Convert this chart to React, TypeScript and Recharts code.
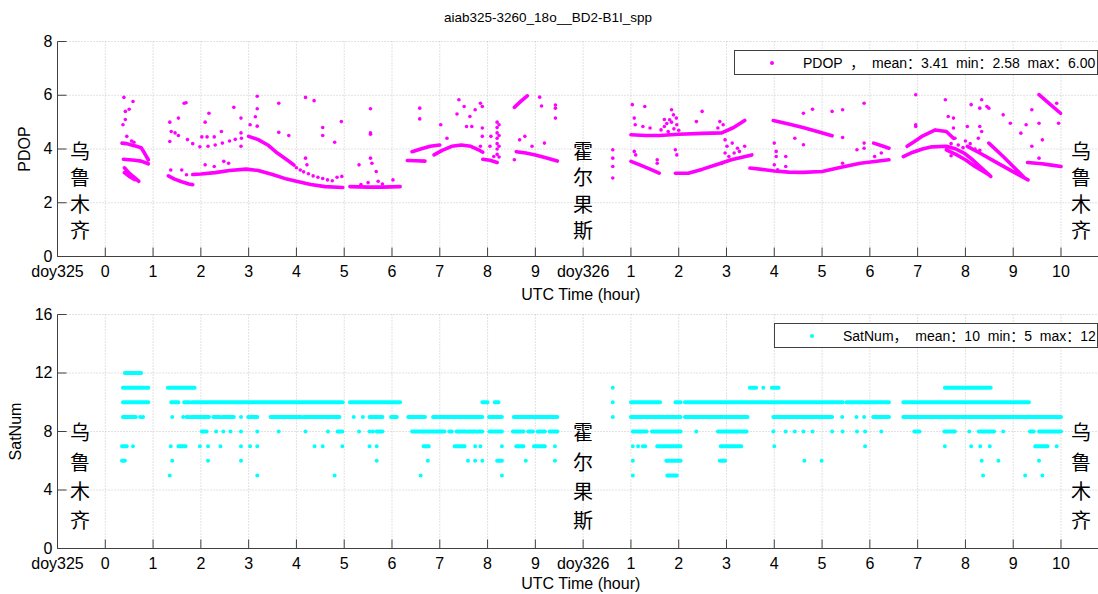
import { CartesianGrid, ComposedChart, Line, Scatter, XAxis, YAxis } from 'recharts'

const FONT = '"Liberation Sans", Arial, "Noto Sans CJK SC", sans-serif'
const CJK = '"Noto Sans CJK SC", sans-serif'
const AXIS = '#404040'
const MAGENTA = '#ff00ff'
const CYAN = '#00ffff'

// x is measured in tick steps: "0" of doy325 is 0, doy326 sits at 10, its hour 1 at 11 ...
const xTicks = [-1, 0, 1, 2, 3, 4, 5, 6, 7, 8, 9, 10, 11, 12, 13, 14, 15, 16, 17, 18, 19, 20]
const xTickLabels = ['doy325', '0', '1', '2', '3', '4', '5', '6', '7', '8', '9', 'doy326', '1', '2', '3', '4', '5', '6', '7', '8', '9', '10']
const pdopTicks = [0, 2, 4, 6, 8]
const satTicks = [0, 4, 8, 12, 16]

// dense PDOP tracks, [t, pdop]
const pdopTracksDay325 = [
  [[0.35, 4.22], [0.45, 4.2], [0.55, 4.15], [0.65, 4.1], [0.75, 4.05], [0.82, 3.85], [0.9, 3.6]],
  [[0.38, 3.62], [0.5, 3.6], [0.62, 3.58], [0.75, 3.55], [0.9, 3.45]],
  [[0.4, 3.3], [0.5, 3.1], [0.6, 2.95], [0.7, 2.8]],
  [[0.4, 3.12], [0.5, 2.98], [0.62, 2.86]],
  [[1.32, 3.0], [1.45, 2.88], [1.6, 2.78], [1.75, 2.7], [1.83, 2.67]],
  [[1.83, 3.05], [2.0, 3.07], [2.3, 3.12], [2.6, 3.2], [2.95, 3.25], [3.2, 3.2], [3.5, 3.05], [3.8, 2.88], [4.0, 2.8], [4.3, 2.68], [4.6, 2.6], [4.97, 2.57]],
  [[3.0, 4.47], [3.2, 4.35], [3.4, 4.15], [3.6, 3.85], [3.8, 3.6], [3.95, 3.4]],
  [[5.12, 2.6], [5.5, 2.58], [5.8, 2.58], [6.17, 2.6]],
  [[6.32, 3.57], [6.5, 3.56], [6.69, 3.55]],
  [[6.42, 3.9], [6.6, 4.0], [6.8, 4.1], [7.0, 4.15]],
  [[6.88, 3.78], [7.05, 3.95], [7.25, 4.1], [7.45, 4.15], [7.65, 4.1], [7.8, 3.98], [7.9, 3.88]],
  [[7.9, 3.62], [8.05, 3.58], [8.2, 3.5]],
  [[8.56, 5.55], [8.7, 5.78], [8.83, 5.98]],
  [[8.6, 3.9], [8.8, 3.85], [9.0, 3.78], [9.2, 3.68], [9.46, 3.55]],
]

const pdopTracksDay326 = [
  [[11.0, 4.53], [11.3, 4.5], [11.6, 4.5], [12.0, 4.55], [12.5, 4.58], [12.9, 4.6], [13.15, 4.8], [13.38, 5.06]],
  [[11.0, 3.54], [11.2, 3.4], [11.4, 3.25], [11.59, 3.1]],
  [[11.93, 3.1], [12.2, 3.1], [12.5, 3.25], [12.85, 3.45], [13.1, 3.6], [13.53, 3.78]],
  [[13.49, 3.29], [13.8, 3.23], [14.0, 3.18], [14.3, 3.14], [14.6, 3.13], [15.0, 3.16], [15.4, 3.32], [15.8, 3.47], [16.4, 3.6]],
  [[13.98, 5.06], [14.3, 4.93], [14.6, 4.8], [14.9, 4.65], [15.21, 4.49]],
  [[16.08, 4.22], [16.25, 4.12], [16.4, 4.03]],
  [[16.7, 3.72], [16.9, 3.88], [17.1, 4.0], [17.3, 4.08], [17.6, 4.1], [17.8, 4.0], [17.97, 3.85], [18.15, 3.6], [18.34, 3.29], [18.53, 2.98]],
  [[16.78, 4.1], [16.95, 4.3], [17.1, 4.48], [17.37, 4.71], [17.6, 4.65], [17.75, 4.4]],
  [[17.6, 3.97], [17.8, 3.8], [18.0, 3.6], [18.2, 3.35], [18.49, 3.04]],
  [[18.04, 4.1], [18.3, 3.85], [18.6, 3.55], [18.9, 3.25], [19.1, 3.05], [19.31, 2.85]],
  [[18.49, 4.22], [18.79, 3.72], [19.0, 3.35], [19.24, 2.92]],
  [[19.3, 3.5], [19.6, 3.45], [19.8, 3.4], [20.0, 3.35]],
  [[19.54, 6.02], [19.75, 5.7], [19.99, 5.33]],
]

// loose PDOP epochs, [t, pdop]
const pdopDotsDay325 = [
  [0.39, 5.92], [0.42, 5.4], [0.37, 4.9], [0.42, 5.1], [0.5, 5.48], [0.58, 5.77], [0.45, 4.47], [0.55, 4.3], [0.6, 4.25],
  [1.35, 5.0], [1.38, 4.65], [1.46, 4.6], [1.53, 4.5], [1.35, 4.28], [1.65, 5.7], [1.69, 5.72], [1.53, 5.15], [1.72, 4.35],
  [1.83, 4.2], [2.02, 4.45], [2.09, 5.0], [2.17, 5.33], [2.13, 4.45], [2.28, 4.45], [2.69, 5.55], [3.18, 5.96], [3.18, 5.5],
  [3.14, 5.2], [3.18, 4.85], [3.03, 4.9], [2.84, 5.15], [2.84, 4.6], [2.84, 4.1], [3.63, 5.7], [3.84, 4.5], [3.63, 4.62],
  [4.19, 5.92], [4.37, 5.8], [4.55, 4.8], [4.55, 4.5], [4.8, 4.25], [4.94, 5.02], [4.19, 3.66], [4.22, 3.41], [2.28, 3.35],
  [2.48, 3.54], [2.58, 3.47], [2.43, 4.65], [2.09, 3.41], [1.7, 3.04], [1.6, 3.22], [1.37, 3.22],
  [1.98, 4.08], [2.15, 4.1], [2.3, 4.15], [2.45, 4.22], [2.6, 4.3], [2.72, 4.36], [2.85, 4.4],
  [4.0, 3.3], [4.08, 3.22], [4.15, 3.15], [4.25, 3.08], [4.35, 3.0], [4.45, 2.95], [4.55, 2.9], [4.65, 2.85], [4.75, 2.82], [4.85, 2.95], [4.95, 2.98],
  [5.55, 5.5], [5.55, 4.6], [5.55, 4.55], [5.55, 3.66], [5.58, 3.47], [5.31, 3.41], [5.67, 3.16], [5.71, 2.8], [6.02, 2.85],
  [5.5, 2.75], [5.8, 2.7], [5.35, 2.68],
  [6.58, 5.52], [6.58, 5.12], [7.02, 4.9], [7.15, 4.4], [7.4, 5.83], [7.36, 5.3], [7.51, 5.58], [7.63, 5.21], [7.74, 5.46],
  [7.85, 5.7], [7.89, 5.58], [7.56, 4.84], [7.67, 4.84], [7.89, 4.78], [7.89, 4.47], [7.85, 4.1], [8.07, 4.47], [8.05, 4.1],
  [8.2, 5.0], [8.2, 4.8], [8.2, 4.6], [8.2, 4.4], [8.2, 4.2], [8.2, 4.0], [8.2, 3.8], [8.24, 4.9], [8.24, 4.5], [8.24, 4.1],
  [8.24, 3.7], [8.13, 3.72],
  [8.56, 3.6], [8.67, 4.34], [8.78, 4.47], [8.93, 4.1], [9.19, 4.22], [9.09, 5.93], [9.13, 5.6], [9.42, 5.64], [9.42, 5.15], [9.42, 5.52],
]

const pdopDotsDay326 = [
  [10.62, 3.97], [10.62, 3.66], [10.62, 3.35], [10.62, 2.92],
  [11.03, 5.65], [11.07, 5.15], [11.09, 4.9], [11.29, 5.58], [11.25, 4.84], [11.4, 4.78], [11.07, 3.91], [11.1, 3.78],
  [11.55, 3.6], [11.55, 3.47], [11.85, 5.46], [11.89, 5.27], [11.81, 5.09], [11.7, 4.84], [11.63, 4.71], [11.96, 4.9],
  [11.78, 4.65], [11.93, 3.97], [11.96, 3.78], [12.49, 5.4], [12.37, 5.02], [12.86, 5.02], [12.93, 4.9], [12.82, 4.78],
  [12.97, 4.34], [13.01, 4.1], [13.12, 4.22], [13.23, 4.03], [12.97, 3.85], [13.16, 3.85], [12.9, 3.47], [13.05, 3.72],
  [13.27, 3.91], [13.38, 4.1], [11.75, 4.95], [11.85, 5.0], [11.9, 4.75], [11.8, 4.55], [12.0, 4.7], [11.7, 5.1], [11.95, 5.15],
  [14.0, 4.22], [14.04, 3.91], [14.04, 3.72], [14.0, 3.41], [14.07, 3.23], [14.24, 3.72], [14.24, 3.35], [14.43, 4.4],
  [14.61, 4.16], [14.61, 5.33], [14.8, 5.48], [15.21, 5.4], [15.43, 5.46], [15.43, 4.43], [15.43, 3.47], [15.88, 5.7],
  [15.88, 4.22], [15.88, 4.03], [15.73, 3.97], [16.1, 3.72], [16.24, 3.85],
  [16.96, 6.02], [16.96, 4.9], [16.96, 4.84], [17.58, 5.83], [17.75, 5.15], [17.64, 5.21], [17.75, 4.78], [17.78, 4.4],
  [18.12, 5.65], [18.34, 5.83], [18.3, 5.52], [18.45, 5.58], [18.49, 5.52], [18.3, 4.84], [18.34, 4.65], [18.27, 4.4],
  [18.04, 4.84], [18.79, 5.27], [18.94, 4.96], [19.16, 4.59], [19.27, 4.9], [19.39, 5.46], [19.54, 4.96], [19.61, 4.34],
  [19.91, 5.7], [19.95, 4.96], [19.39, 4.1], [19.54, 3.66],
  [17.7, 4.2], [17.85, 4.15], [17.95, 4.05], [18.1, 4.2], [18.2, 4.0], [18.3, 3.95], [17.7, 3.75], [18.0, 4.3],
]

// satellite count runs per level, [t start, t end]
const sat12 = [[0.41, 0.75]]
const sat11 = [[0.37, 0.9], [1.31, 1.87], [10.62, 10.62], [13.49, 13.62], [13.77, 13.77], [13.95, 14.09], [17.57, 18.53]]
const sat10 = [
  [0.37, 0.9], [1.38, 1.53], [1.65, 1.76], [1.81, 4.97], [5.12, 6.17], [7.89, 8.0], [8.15, 8.23], [10.62, 10.62],
  [11.0, 11.61], [11.93, 12.04], [12.13, 15.43], [15.51, 16.4], [16.7, 19.33],
]
const sat9 = [
  [0.37, 0.64], [0.73, 0.73], [0.79, 0.79], [1.4, 1.4], [1.63, 1.63], [1.7, 1.75], [1.8, 2.17], [2.26, 2.4], [2.45, 2.69],
  [2.84, 2.84], [2.99, 3.18], [3.46, 4.1], [4.15, 4.9], [5.2, 5.2], [5.39, 5.39], [5.53, 5.8], [5.98, 6.1], [6.34, 6.69],
  [6.86, 7.89], [8.03, 8.3], [8.55, 9.46], [10.62, 10.62], [11.0, 12.04], [12.13, 13.44], [13.98, 15.21], [15.42, 15.42],
  [15.72, 15.72], [15.88, 15.88], [16.07, 16.4], [16.7, 17.67], [17.7, 17.75], [17.78, 20.0],
]
const sat8 = [
  [2.02, 2.12], [2.32, 2.32], [2.47, 2.47], [2.62, 2.62], [2.84, 2.84], [3.18, 3.18], [3.63, 3.63], [4.19, 4.19],
  [4.66, 4.66], [4.86, 4.96], [5.31, 5.31], [5.53, 5.53], [5.6, 5.6], [5.68, 5.8], [6.42, 7.1], [7.2, 7.25],
  [7.35, 7.55], [7.6, 7.75], [7.8, 7.89], [8.04, 8.3], [8.53, 8.75], [8.85, 8.95], [9.05, 9.2], [9.3, 9.46],
  [11.04, 11.33], [11.44, 12.04], [12.37, 12.37], [12.82, 13.42], [13.98, 13.98], [14.24, 14.24], [14.43, 14.43],
  [14.61, 14.61], [14.8, 14.8], [15.21, 15.21], [15.43, 15.43], [15.73, 15.73], [15.9, 15.9], [16.24, 16.24],
  [16.93, 17.04], [17.56, 17.78], [18.08, 18.08], [18.28, 18.6], [18.79, 18.79], [19.35, 19.43], [19.54, 20.0],
]
const sat7 = [
  [0.35, 0.45], [0.58, 0.58], [1.37, 1.37], [1.53, 1.68], [1.98, 1.98], [2.15, 2.15], [2.41, 2.41], [2.84, 2.84],
  [3.03, 3.03], [3.18, 3.18], [4.38, 4.38], [4.55, 4.55], [4.96, 4.96], [5.53, 5.53], [5.68, 5.68], [6.66, 6.77],
  [7.31, 7.52], [7.74, 7.74], [7.85, 7.85], [8.3, 8.3], [8.6, 8.75], [8.97, 9.2], [9.41, 9.41], [11.04, 11.04],
  [11.15, 11.15], [11.25, 11.3], [11.55, 12.04], [12.88, 13.31], [14.0, 14.0], [15.9, 15.9], [17.57, 17.57],
  [18.12, 18.12], [18.31, 18.31], [18.51, 18.51], [19.46, 19.72], [19.91, 19.91],
]
const sat6 = [
  [0.35, 0.41], [1.4, 1.4], [2.15, 2.15], [2.84, 2.84], [5.68, 5.68], [6.75, 6.75], [7.59, 7.59], [7.74, 7.74],
  [7.89, 7.89], [8.2, 8.3], [8.8, 8.8], [9.41, 9.41], [11.04, 11.04], [11.74, 12.04], [12.86, 12.97], [14.63, 14.63],
  [14.99, 14.99], [18.34, 18.34], [18.69, 18.69], [19.54, 19.54],
]
const sat5 = [
  [1.35, 1.35], [3.18, 3.18], [4.8, 4.8], [6.6, 6.6], [8.3, 8.3], [11.04, 11.04], [11.76, 11.96], [18.37, 18.37],
  [19.25, 19.25], [19.61, 19.61],
]

const satLevels = [
  { level: 12, runs: sat12 },
  { level: 11, runs: sat11 },
  { level: 10, runs: sat10 },
  { level: 9, runs: sat9 },
  { level: 8, runs: sat8 },
  { level: 7, runs: sat7 },
  { level: 6, runs: sat6 },
  { level: 5, runs: sat5 },
]

type Pt = { t: number; v: number | null }

function tracksToRows(tracks: number[][][]): Pt[] {
  const rows: Pt[] = []
  tracks.forEach((tr) => {
    tr.forEach(([t, v]) => rows.push({ t, v }))
    rows.push({ t: tr[tr.length - 1][0], v: null })
  })
  return rows
}

function runsToRows(runs: number[][], level: number): Pt[] {
  const rows: Pt[] = []
  runs.forEach(([a, b]) => {
    rows.push({ t: a, v: level }, { t: b, v: level }, { t: b, v: null })
  })
  return rows
}

const toRows = (pts: number[][]) => pts.map(([t, v]) => ({ t, v }))

function BottomTick(props: any) {
  const { x, y, payload } = props
  const label = xTickLabels[xTicks.indexOf(payload.value)]
  return (
    <g>
      <line x1={x} y1={y} x2={x} y2={y - 9} stroke={AXIS} />
      <text x={x} y={y + 20} textAnchor="middle" fontSize={16} fontFamily={FONT} fill="#000">
        {label}
      </text>
    </g>
  )
}

function TopTick(props: any) {
  const { x, y } = props
  return <line x1={x} y1={y} x2={x} y2={y + 9} stroke={AXIS} />
}

function LeftTick(props: any) {
  const { x, y, payload } = props
  return (
    <g>
      <line x1={x} y1={y} x2={x + 9} y2={y} stroke={AXIS} />
      <text x={x - 5} y={y + 5} textAnchor="end" fontSize={16} fontFamily={FONT} fill="#000">
        {payload.value}
      </text>
    </g>
  )
}

function xLabel(offset: number) {
  return (props: any) => {
    const vb = props.viewBox
    return (
      <text x={vb.x + vb.width / 2} y={vb.y + offset} textAnchor="middle" fontSize={16} fontFamily={FONT} fill="#000">
        UTC Time (hour)
      </text>
    )
  }
}

function yLabel(text: string, baseX: number) {
  return (props: any) => {
    const vb = props.viewBox
    const cy = vb.y + vb.height / 2
    return (
      <text x={baseX} y={cy} transform={`rotate(-90 ${baseX} ${cy})`} textAnchor="middle" fontSize={16} fontFamily={FONT} fill="#000">
        {text}
      </text>
    )
  }
}

const dotShape = (color: string) => (p: any) => <circle cx={p.cx} cy={p.cy} r={1.8} fill={color} />

function CityLabel({ text, cx, top, step }: { text: string; cx: number; top: number; step: number }) {
  return (
    <div style={{ position: 'absolute', left: cx - 15, top: top - step / 2, width: 30, fontFamily: CJK, fontSize: 20, color: '#000', textAlign: 'center' }}>
      {text.split('').map((ch, i) => (
        <div key={i} style={{ height: step, lineHeight: `${step}px` }}>
          {ch}
        </div>
      ))}
    </div>
  )
}

function LegendBox({ left, top, width, color, text }: { left: number; top: number; width: number; color: string; text: string }) {
  return (
    <div
      style={{
        position: 'absolute', left, top, width, height: 23, border: `1px solid ${AXIS}`, background: '#fff',
        fontFamily: FONT, fontSize: 14, color: '#000', whiteSpace: 'pre',
      }}
    >
      <span style={{ position: 'absolute', left: 35, top: 10, width: 4, height: 4, borderRadius: 2, background: color }} />
      <span style={{ position: 'absolute', left: 68, top: 3, lineHeight: '18px' }}>{text}</span>
    </div>
  )
}

const W = 1110
const X_DOMAIN: [number, number] = [-1, 20.9]

export default function App() {
  const pdopTrackRows = [...tracksToRows(pdopTracksDay325), ...tracksToRows(pdopTracksDay326)]
  const pdopDotRows = [...toRows(pdopDotsDay325), ...toRows(pdopDotsDay326)]

  return (
    <div style={{ position: 'fixed', left: 0, top: 0, width: 1098, height: 594, overflow: 'hidden', background: '#fff' }}>
      <div style={{ position: 'absolute', left: 348, top: 9, width: 400, textAlign: 'center', fontFamily: FONT, fontSize: 13.5, lineHeight: '17px', whiteSpace: 'nowrap' }}>
        aiab325-3260_18o__BD2-B1I_spp
      </div>

      <div style={{ position: 'absolute', left: 0, top: 300 }}>
        <ComposedChart width={W} height={294} margin={{ top: 14.5, right: 6, bottom: 0, left: 0 }}>
          <CartesianGrid stroke="#c4c4c4" strokeDasharray="1 2" />
          <XAxis dataKey="t" type="number" domain={X_DOMAIN} ticks={xTicks} allowDataOverflow height={45.5}
            tickSize={0} tickMargin={0} tick={<BottomTick />} tickLine={false} axisLine={{ stroke: AXIS }} interval={0}
            label={xLabel(40)} />
          <XAxis xAxisId="top" orientation="top" type="number" domain={X_DOMAIN} ticks={xTicks} allowDataOverflow height={0}
            tickSize={0} tickMargin={0} tick={<TopTick />} tickLine={false} axisLine={{ stroke: AXIS }} interval={0} />
          <YAxis dataKey="v" type="number" domain={[0, 16]} ticks={satTicks} width={57.5} tickSize={0} tickMargin={0}
            tick={<LeftTick />} tickLine={false} axisLine={{ stroke: AXIS }} interval={0} label={yLabel('SatNum', 21)} />
          {satLevels.map((s) => (
            <Line key={s.level} data={runsToRows(s.runs, s.level)} dataKey="v" stroke={CYAN} strokeWidth={4}
              strokeLinecap="round" dot={false} activeDot={false} isAnimationActive={false} />
          ))}
        </ComposedChart>
      </div>

      <div style={{ position: 'absolute', left: 0, top: 0 }}>
        <ComposedChart width={W} height={308} margin={{ top: 41.5, right: 6, bottom: 0, left: 0 }}>
          <CartesianGrid stroke="#c4c4c4" strokeDasharray="1 2" />
          <XAxis dataKey="t" type="number" domain={X_DOMAIN} ticks={xTicks} allowDataOverflow height={51.5}
            tickSize={0} tickMargin={0} tick={<BottomTick />} tickLine={false} axisLine={{ stroke: AXIS }} interval={0}
            label={xLabel(43)} />
          <XAxis xAxisId="top" orientation="top" type="number" domain={X_DOMAIN} ticks={xTicks} allowDataOverflow height={0}
            tickSize={0} tickMargin={0} tick={<TopTick />} tickLine={false} axisLine={{ stroke: AXIS }} interval={0} />
          <YAxis dataKey="v" type="number" domain={[0, 8]} ticks={pdopTicks} width={57.5} tickSize={0} tickMargin={0}
            tick={<LeftTick />} tickLine={false} axisLine={{ stroke: AXIS }} interval={0} label={yLabel('PDOP', 30)} />
          <Line data={pdopTrackRows} dataKey="v" stroke={MAGENTA} strokeWidth={3.6} strokeLinecap="round" strokeLinejoin="round"
            dot={false} activeDot={false} isAnimationActive={false} />
          <Scatter data={pdopDotRows} dataKey="v" fill={MAGENTA} shape={dotShape(MAGENTA)} isAnimationActive={false} />
        </ComposedChart>
      </div>

      <LegendBox left={734} top={50} width={362} color={MAGENTA} text={'PDOP  ，  mean：3.41  min：2.58  max：6.00'} />
      <LegendBox left={774} top={323} width={322} color={CYAN} text={'SatNum，  mean：10  min：5  max：12'} />

      <CityLabel text="乌鲁木齐" cx={80} top={151} step={26.5} />
      <CityLabel text="霍尔果斯" cx={583} top={151} step={26.5} />
      <CityLabel text="乌鲁木齐" cx={1081} top={151} step={26.5} />
      <CityLabel text="乌鲁木齐" cx={80} top={432} step={29.4} />
      <CityLabel text="霍尔果斯" cx={583} top={432} step={29.4} />
      <CityLabel text="乌鲁木齐" cx={1081} top={432} step={29.4} />
    </div>
  )
}
